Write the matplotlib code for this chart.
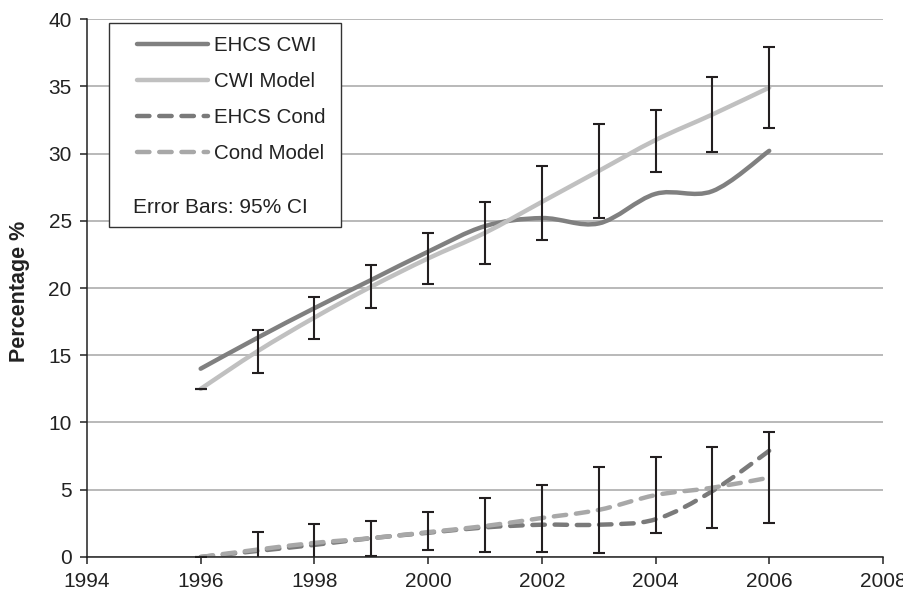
import matplotlib
matplotlib.use('Agg')
import matplotlib.pyplot as plt
from matplotlib.path import Path
from matplotlib.patches import PathPatch, Rectangle
from matplotlib.lines import Line2D
import numpy as np

plt.rcParams['font.family'] = ['Liberation Sans', 'DejaVu Sans']

years = [1996, 1997, 1998, 1999, 2000, 2001, 2002, 2003, 2004, 2005, 2006]

ehcs_cwi = [14.0, 16.3, 18.5, 20.6, 22.7, 24.6, 25.2, 24.8, 27.0, 27.2, 30.2]
cwi_model = [12.5, 15.3, 17.8, 20.1, 22.2, 24.1, 26.4, 28.7, 31.0, 32.9, 34.9]
cwi_ci_low = [12.5, 13.7, 16.2, 18.5, 20.3, 21.8, 23.6, 25.2, 28.6, 30.1, 31.9]
cwi_ci_high = [12.5, 16.9, 19.3, 21.7, 24.1, 26.4, 29.1, 32.2, 33.2, 35.7, 37.9]

ehcs_cond = [0.0, 0.45, 0.9, 1.4, 1.8, 2.2, 2.4, 2.4, 2.8, 4.9, 7.9]
cond_model = [0.0, 0.55, 1.05, 1.4, 1.85, 2.3, 2.9, 3.5, 4.6, 5.15, 5.9]
cond_ci_low = [0.0, -0.55, -0.15, 0.1, 0.5, 0.35, 0.35, 0.3, 1.8, 2.15, 2.5]
cond_ci_high = [0.0, 1.85, 2.45, 2.7, 3.35, 4.4, 5.35, 6.7, 7.4, 8.15, 9.3]

series = [
    ("EHCS CWI", ehcs_cwi, "#808080", "-"),
    ("CWI Model", cwi_model, "#c0c0c0", "-"),
    ("EHCS Cond", ehcs_cond, "#7a7a7a", (0, (2.8, 2.2))),
    ("Cond Model", cond_model, "#a8a8a8", (0, (2.8, 2.2))),
]


def smooth_path(x, y):
    # excel-style smoothed line: cubic bezier through every point
    pts = np.column_stack([x, y]).astype(float)
    verts = [pts[0]]
    codes = [Path.MOVETO]
    n = len(pts)
    for i in range(n - 1):
        p0 = pts[i - 1] if i > 0 else pts[i]
        p1 = pts[i]
        p2 = pts[i + 1]
        p3 = pts[i + 2] if i + 2 < n else pts[i + 1]
        c1 = p1 + (p2 - p0) / 6.0
        c2 = p2 - (p3 - p1) / 6.0
        verts += [c1, c2, p2]
        codes += [Path.CURVE4] * 3
    return Path(verts, codes)


fig = plt.figure(figsize=(9.04, 5.94), dpi=100)
ax = fig.add_axes([0.0962, 0.0623, 0.8805, 0.9057])

ax.set_xlim(1994, 2008)
ax.set_ylim(0, 40)
ax.set_xticks(range(1994, 2009, 2))
ax.set_yticks(range(0, 41, 5))
ax.yaxis.grid(True, color="#a6a6a6", linewidth=1.1)
ax.set_axisbelow(True)

for name, vals, col, ls in series:
    patch = PathPatch(smooth_path(years, vals), fill=False, edgecolor=col,
                      linewidth=3.2, linestyle=ls, capstyle='round',
                      joinstyle='round', zorder=3)
    ax.add_patch(patch)

cwi_err = [np.array(cwi_model) - np.array(cwi_ci_low),
           np.array(cwi_ci_high) - np.array(cwi_model)]
cond_err = [np.array(cond_model) - np.array(cond_ci_low),
            np.array(cond_ci_high) - np.array(cond_model)]
for model, err in [(cwi_model, cwi_err), (cond_model, cond_err)]:
    ax.errorbar(years, model, yerr=err, fmt='none', ecolor="#231f20",
                elinewidth=1.5, capsize=4.4, capthick=1.5, zorder=4)

for s in ['top', 'right']:
    ax.spines[s].set_visible(False)
for s in ['left', 'bottom']:
    ax.spines[s].set_color("#222222")
    ax.spines[s].set_linewidth(1.1)
    ax.spines[s].set_zorder(5)

ax.tick_params(axis='both', direction='out', length=5, width=1.1, pad=6,
               color="#222222", labelsize=15, labelcolor="#222222")
ax.set_ylabel("Percentage %", fontsize=15.5, fontweight='bold', color="#222222")
ax.yaxis.set_label_coords(-0.0716, 0.494)

# legend
ax.add_patch(Rectangle((0.028, 0.614), 0.291, 0.379, transform=ax.transAxes,
                       facecolor='white', edgecolor="#333333", linewidth=1.0,
                       zorder=6))
handles = [Line2D([], [], color=col, linewidth=3.2, linestyle=ls,
                  solid_capstyle='round', dash_capstyle='round')
           for name, vals, col, ls in series]
leg = ax.legend(handles, [s[0] for s in series], loc='upper left',
                bbox_to_anchor=(0.0624, 0.9675), frameon=False, fontsize=14.8,
                handlelength=3.45, handletextpad=0.32, labelspacing=0.82,
                borderpad=0, borderaxespad=0)
leg.set_zorder(7)
for t in leg.get_texts():
    t.set_color("#222222")
ax.text(0.0582, 0.650, "Error Bars: 95% CI", transform=ax.transAxes,
        fontsize=15, color="#222222", va='center', ha='left', zorder=8)

plt.savefig("out.png", dpi=100)
